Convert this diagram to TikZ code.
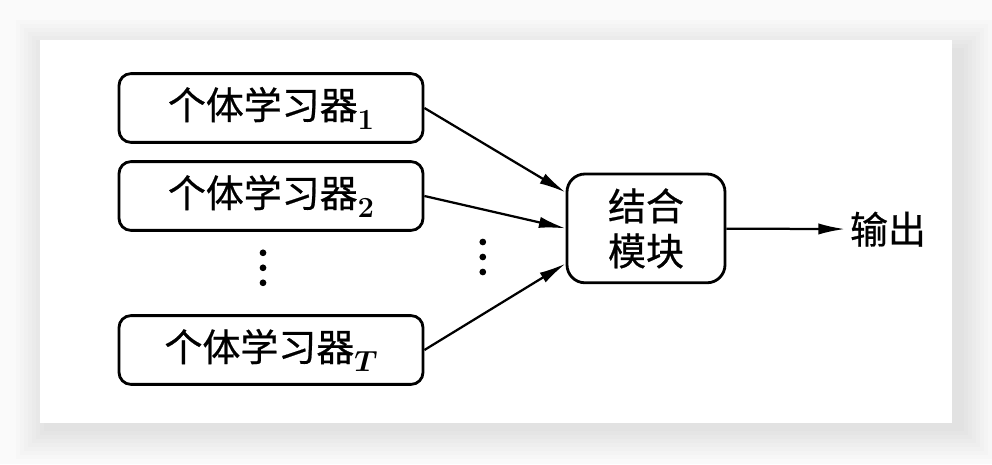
\documentclass[tikz,border=0pt]{standalone}
\usepackage{fontspec}
\newfontfamily\cjk[FakeBold=0.6]{Noto Sans CJK SC}
\usepackage{tikz}
\usetikzlibrary{arrows.meta, positioning, calc}

\newcommand{\learnsub}[1]{{\fontsize{22}{22}\selectfont\boldmath\raisebox{-7pt}{$#1$}}}

\begin{document}
\begin{tikzpicture}[
    learner/.style={draw, line width=2pt, rounded corners=0.3cm, fill=white, minimum width=7.6cm, minimum height=1.72cm, align=center, font=\cjk\fontsize{27}{32}\selectfont},
    combiner/.style={draw, line width=2pt, rounded corners=0.45cm, fill=white, minimum width=3.95cm, minimum height=2.72cm, align=center, font=\cjk\fontsize{27}{32}\selectfont},
    arrow/.style={-{Latex[length=19pt, width=8pt]}, line width=1.6pt}
]
    % page and card with soft shadow
    \useasboundingbox (0,0) rectangle (24.8,11.6);
    \fill[black!2] (0,0) rectangle (24.8,11.6);
    \foreach \s in {0.1,0.2,...,0.8}
        \fill[black, opacity=0.012] ($(1.0,1.03)+(-\s+0.2,-\s-0.1)$) rectangle ($(23.8,10.6)+(\s+0.2,\s-0.3)$);
    \fill[white] (1.0,1.03) rectangle (23.8,10.6);

    \node[learner] (learner1) at (6.775,8.9) {个体学习器\learnsub{1}};
    \node[learner] (learner2) at (6.775,6.7) {个体学习器\learnsub{2}};
    \node[learner] (learnerT) at (6.775,2.85) {个体学习器\learnsub{T}};
    \node[combiner] (comb) at (16.15,5.89) {结合\\模块};
    \node[font=\cjk\fontsize{27}{32}\selectfont] (out) at (22.2,5.87) {输出};

    % vertical dots
    \foreach \y in {0,1,2} {
        \fill (6.575,{5.28-0.375*\y}) circle (2.4pt);
        \fill (12.07,{5.55-0.375*\y}) circle (2.4pt);
    }

    \draw[arrow] (learner1.east) -- ($(comb.west)+(0,0.9)$);
    \draw[arrow] (learner2.east) -- (comb.west);
    \draw[arrow] (learnerT.east) -- ($(comb.west)+(0,-0.88)$);
    \draw[arrow] (comb) -- (out);
\end{tikzpicture}
\end{document}
